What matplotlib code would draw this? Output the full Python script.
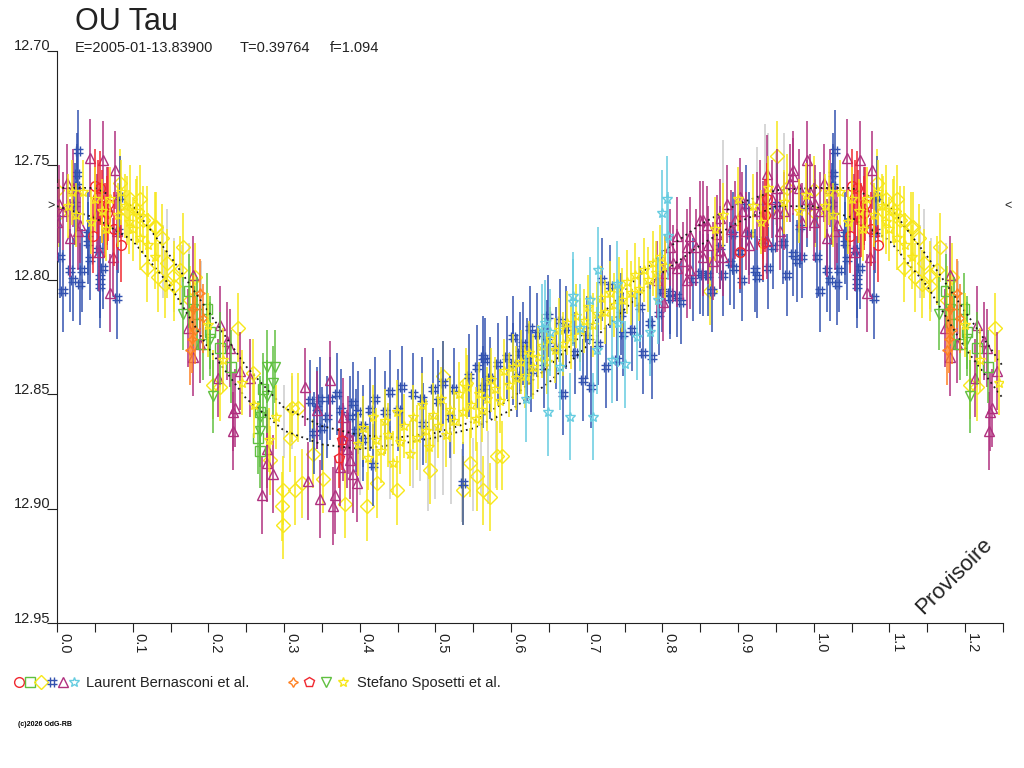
import numpy as np
import matplotlib
matplotlib.use('Agg')
import matplotlib.pyplot as plt
import matplotlib.transforms as mtransforms
from matplotlib.path import Path
from matplotlib.lines import Line2D
from matplotlib.legend_handler import HandlerTuple

plt.rcParams['font.family'] = ['Liberation Sans', 'DejaVu Sans']

# --- light curve data (phase, magnitude) ---
# Laurent Bernasconi et al.
red_phase = [0.050, 0.057, 0.054, 0.059, 0.066, 0.063, 0.048, 0.067, 0.933, 0.938, 0.902, 0.935, 0.075, 0.085]
red_mag = [12.759, 12.760, 12.764, 12.768, 12.771, 12.774, 12.781, 12.767, 12.784, 12.765, 12.788, 12.772, 12.778, 12.785]

green_sq_phase = [0.198, 0.202, 0.193, 0.268, 0.266, 0.268, 0.175, 0.185, 0.215, 0.230, 0.272]
green_sq_mag = [12.813, 12.823, 12.828, 12.858, 12.869, 12.875, 12.805, 12.815, 12.830, 12.838, 12.848]

ydiam_phase = [0.000, 0.002, 0.083, 0.096, 0.106, 0.114, 0.129, 0.139, 0.119, 0.134,
               0.167, 0.145, 0.163, 0.154, 0.119, 0.092, 0.110, 0.239, 0.176, 0.206,
               0.215, 0.143, 0.154, 0.259, 0.308, 0.299, 0.314, 0.297, 0.299, 0.324,
               0.351, 0.281, 0.338, 0.310, 0.318, 0.409, 0.380, 0.423, 0.449, 0.510,
               0.541, 0.563, 0.572, 0.581, 0.588, 0.555, 0.536, 0.546, 0.493, 0.951,
               0.863, 0.940, 0.965, 0.182, 0.131]
ydiam_mag = [12.761, 12.771, 12.758, 12.765, 12.770, 12.774, 12.777, 12.782, 12.795, 12.799,
             12.786, 12.793, 12.796, 12.803, 12.774, 12.770, 12.765, 12.821, 12.809, 12.846,
             12.847, 12.802, 12.798, 12.841, 12.869, 12.892, 12.892, 12.899, 12.907, 12.889,
             12.887, 12.879, 12.876, 12.856, 12.856, 12.899, 12.898, 12.889, 12.892, 12.842,
             12.845, 12.892, 12.895, 12.877, 12.877, 12.886, 12.892, 12.880, 12.883, 12.746,
             12.805, 12.770, 12.760, 12.799, 12.777]

blue_phase = ([0.028, 0.026, 0.026, 0.004, 0.017, 0.021, 0.033, 0.030, 0.041, 0.079,
               0.061, 0.057, 0.083, 0.044, 0.024, 0.041, 0.081, 0.054, 0.057, 0.008]
              + [0.334, 0.347, 0.361, 0.370, 0.343, 0.357, 0.398, 0.404, 0.413, 0.433,
                 0.440, 0.456, 0.418, 0.404, 0.482, 0.497, 0.503, 0.536, 0.563, 0.583,
                 0.572, 0.602, 0.608, 0.621, 0.563, 0.519, 0.484, 0.391, 0.387, 0.339,
                 0.350, 0.375, 0.395, 0.420, 0.450, 0.470, 0.510, 0.525, 0.545, 0.555]
              + [0.603, 0.616, 0.625, 0.565, 0.594, 0.634, 0.647, 0.649, 0.664, 0.673,
                 0.669, 0.695, 0.706, 0.720, 0.726, 0.740, 0.748, 0.774, 0.786, 0.783,
                 0.810, 0.819, 0.853, 0.731, 0.612,
                 0.745, 0.760, 0.770, 0.795, 0.800, 0.825, 0.840, 0.865, 0.880, 0.895,
                 0.660, 0.685, 0.700, 0.715, 0.626, 0.644]
              + [0.849, 0.860, 0.922, 0.925, 0.933, 0.946, 0.959, 0.972, 0.978, 0.915,
                 0.893, 0.902, 0.876, 0.889, 0.991, 0.911, 0.951, 0.982, 0.810,
                 0.905, 0.940, 0.965, 0.985])
blue_mag = ([12.744, 12.754, 12.759, 12.790, 12.796, 12.800, 12.796, 12.802, 12.784, 12.808,
             12.795, 12.803, 12.764, 12.791, 12.767, 12.780, 12.779, 12.787, 12.799, 12.805]
            + [12.853, 12.852, 12.852, 12.850, 12.856, 12.860, 12.858, 12.864, 12.857, 12.858,
               12.849, 12.847, 12.881, 12.870, 12.852, 12.848, 12.853, 12.889, 12.834, 12.837,
               12.843, 12.837, 12.842, 12.835, 12.847, 12.860, 12.863, 12.854, 12.860, 12.867,
               12.865, 12.857, 12.866, 12.852, 12.857, 12.850, 12.845, 12.848, 12.842, 12.838]
            + [12.825, 12.828, 12.821, 12.835, 12.834, 12.824, 12.827, 12.816, 12.818, 12.821,
               12.850, 12.844, 12.847, 12.800, 12.838, 12.835, 12.824, 12.832, 12.834, 12.819,
               12.808, 12.807, 12.798, 12.803, 12.832,
               12.815, 12.822, 12.812, 12.815, 12.805, 12.810, 12.800, 12.805, 12.798, 12.795,
               12.830, 12.832, 12.825, 12.828, 12.840, 12.838]
            + [12.797, 12.798, 12.796, 12.799, 12.783, 12.786, 12.784, 12.789, 12.792, 12.780,
               12.780, 12.788, 12.786, 12.793, 12.768, 12.768, 12.767, 12.777, 12.806,
               12.800, 12.795, 12.798, 12.790])

purple_phase = ([0.044, 0.061, 0.077, 0.000, 0.021, 0.017, 0.030, 0.008, 0.013, 0.070,
                 0.079, 0.074, 0.053, 0.028, 0.002, 0.066, 0.055]
                + [0.180, 0.173, 0.180, 0.189, 0.215, 0.225, 0.229, 0.213, 0.233, 0.235,
                   0.242, 0.255, 0.277, 0.277, 0.271, 0.285, 0.328, 0.361, 0.332, 0.347,
                   0.365, 0.367, 0.378, 0.383, 0.387, 0.391, 0.396, 0.374, 0.343, 0.378,
                   0.384, 0.232]
                + [0.803, 0.814, 0.827, 0.832, 0.845, 0.849, 0.859, 0.872, 0.885, 0.876,
                   0.896, 0.902, 0.911, 0.925, 0.938, 0.951, 0.951, 0.968, 0.972, 0.991,
                   0.995, 0.991, 0.819, 0.836, 0.853, 0.867, 0.876, 0.929, 0.933, 0.938,
                   0.955, 0.972, 0.810, 0.819, 0.836, 0.853, 0.832, 0.801, 0.793,
                   0.860, 0.880, 0.890, 0.905, 0.915, 0.945, 0.960, 0.980, 0.985])
purple_mag = ([12.747, 12.748, 12.752, 12.775, 12.760, 12.782, 12.776, 12.770, 12.758, 12.806,
               12.779, 12.790, 12.771, 12.779, 12.767, 12.768, 12.788]
              + [12.798, 12.821, 12.834, 12.828, 12.820, 12.827, 12.830, 12.843, 12.858, 12.856,
                 12.840, 12.843, 12.874, 12.880, 12.894, 12.885, 12.847, 12.844, 12.888, 12.896,
                 12.899, 12.894, 12.860, 12.874, 12.879, 12.885, 12.889, 12.882, 12.857, 12.871,
                 12.868, 12.866]
              + [12.797, 12.793, 12.792, 12.786, 12.786, 12.774, 12.776, 12.780, 12.767, 12.787,
                 12.774, 12.764, 12.779, 12.770, 12.754, 12.760, 12.771, 12.758, 12.752, 12.748,
                 12.762, 12.765, 12.781, 12.796, 12.790, 12.792, 12.773, 12.765, 12.774, 12.783,
                 12.779, 12.755, 12.786, 12.795, 12.781, 12.774, 12.800, 12.810, 12.800,
                 12.785, 12.790, 12.778, 12.770, 12.785, 12.765, 12.770, 12.760, 12.775])

cyan_phase = [0.806, 0.799, 0.807, 0.682, 0.682, 0.740, 0.741, 0.704, 0.645, 0.641, 0.713, 0.734,
              0.750, 0.783, 0.794, 0.766, 0.649, 0.678, 0.708, 0.664, 0.691, 0.651, 0.715, 0.620]
cyan_mag = [12.765, 12.771, 12.781, 12.807, 12.810, 12.802, 12.819, 12.809, 12.819, 12.821, 12.831, 12.835,
            12.837, 12.823, 12.809, 12.825, 12.858, 12.860, 12.860, 12.838, 12.821, 12.823, 12.796, 12.852]

# Stefano Sposetti et al.
orange_phase = [0.180, 0.178, 0.182, 0.189, 0.193, 0.176]
orange_mag = [12.813, 12.826, 12.822, 12.806, 12.817, 12.831]

pent_phase = [0.372, 0.376]
pent_mag = [12.878, 12.870]

green_tri_phase = [0.166, 0.206, 0.277, 0.288, 0.285, 0.277, 0.268, 0.268, 0.180, 0.202]
green_tri_mag = [12.815, 12.851, 12.838, 12.838, 12.845, 12.851, 12.860, 12.866, 12.813, 12.826]

ystar_phase = ([0.015, 0.025, 0.035, 0.045, 0.060, 0.070, 0.080, 0.090, 0.100, 0.110,
                0.020, 0.050, 0.065, 0.085, 0.095, 0.105, 0.120, 0.130,
                0.200, 0.220, 0.245, 0.260, 0.280, 0.290]
               + [0.398, 0.404, 0.411, 0.417, 0.421, 0.428, 0.433, 0.438, 0.444, 0.449,
                  0.453, 0.459, 0.466, 0.471, 0.476, 0.482, 0.487, 0.491, 0.497, 0.503,
                  0.508, 0.514, 0.519, 0.524, 0.531, 0.536, 0.542, 0.547, 0.553, 0.558,
                  0.562, 0.568, 0.574, 0.579, 0.586, 0.591, 0.597, 0.602, 0.607, 0.613,
                  0.618, 0.624, 0.629, 0.636, 0.641, 0.647, 0.652, 0.658, 0.663, 0.669,
                  0.674, 0.679, 0.686, 0.691, 0.697, 0.702, 0.708, 0.713, 0.719, 0.724,
                  0.731, 0.736, 0.742, 0.747, 0.753, 0.758, 0.764, 0.769, 0.776, 0.781,
                  0.787, 0.792, 0.797, 0.803]
               + [0.870, 0.880, 0.900, 0.920, 0.930, 0.940, 0.960, 0.980, 0.990])
ystar_mag = ([12.768, 12.772, 12.762, 12.775, 12.770, 12.765, 12.772, 12.768, 12.778, 12.782,
              12.762, 12.765, 12.778, 12.762, 12.775, 12.770, 12.785, 12.790,
              12.820, 12.835, 12.845, 12.855, 12.870, 12.860]
             + [12.872, 12.865, 12.878, 12.860, 12.870, 12.875, 12.862, 12.868, 12.880, 12.858,
                12.871, 12.864, 12.876, 12.860, 12.869, 12.855, 12.866, 12.873, 12.859, 12.864,
                12.852, 12.868, 12.857, 12.862, 12.850, 12.858, 12.847, 12.855, 12.861, 12.850,
                12.857, 12.852, 12.844, 12.848, 12.853, 12.840, 12.846, 12.838, 12.843, 12.836,
                12.842, 12.832, 12.838, 12.834, 12.829, 12.836, 12.826, 12.831, 12.822, 12.828,
                12.819, 12.825, 12.816, 12.822, 12.818, 12.812, 12.820, 12.815, 12.808, 12.814,
                12.806, 12.811, 12.804, 12.809, 12.801, 12.806, 12.798, 12.804, 12.796, 12.800,
                12.793, 12.797, 12.790, 12.794]
             + [12.778, 12.772, 12.765, 12.768, 12.775, 12.760, 12.766, 12.770, 12.763])

# unlabelled grey points
grey_phase = [0.140, 0.155, 0.165, 0.190, 0.300, 0.310, 0.400, 0.440, 0.470, 0.490,
              0.500, 0.520, 0.535, 0.550, 0.570, 0.880, 0.935, 0.940, 0.950,
              0.145, 0.175, 0.185, 0.480, 0.510, 0.560, 0.580, 0.960, 0.925]
grey_mag = [12.792, 12.798, 12.801, 12.808, 12.862, 12.858, 12.878, 12.880, 12.875, 12.885,
            12.880, 12.882, 12.890, 12.885, 12.882, 12.755, 12.748, 12.752, 12.760,
            12.785, 12.800, 12.815, 12.872, 12.878, 12.878, 12.875, 12.752, 12.758]

# model curves (dotted)
curve_phase = [0.00, 0.05, 0.10, 0.15, 0.20, 0.25, 0.30, 0.35, 0.40, 0.45, 0.50,
               0.55, 0.60, 0.65, 0.70, 0.75, 0.80, 0.85, 0.90, 0.95, 1.00]
curve_a = [12.760, 12.760, 12.768, 12.790, 12.814, 12.838, 12.856, 12.864, 12.868, 12.869, 12.867,
           12.862, 12.852, 12.838, 12.822, 12.805, 12.788, 12.776, 12.767, 12.761, 12.760]
curve_b = [12.768, 12.773, 12.783, 12.803, 12.830, 12.852, 12.866, 12.872, 12.874, 12.872, 12.869,
           12.865, 12.857, 12.845, 12.829, 12.813, 12.797, 12.785, 12.775, 12.768, 12.768]

ref_mag = 12.768
x_ticks = [0.0, 0.1, 0.2, 0.3, 0.4, 0.5, 0.6, 0.7, 0.8, 0.9, 1.0, 1.1, 1.2]
y_ticks = [12.70, 12.75, 12.80, 12.85, 12.90, 12.95]


def fold(ph, mg):
    ph = np.asarray(ph)
    mg = np.asarray(mg)
    extra = ph < 0.25
    return np.concatenate([ph, ph[extra] + 1.0]), np.concatenate([mg, mg[extra]])


hash_marker = Path([(-1, 0.5), (1, 0.5), (-1, -0.5), (1, -0.5),
                    (-0.5, 1), (-0.5, -1), (0.5, 1), (0.5, -1)],
                   [Path.MOVETO, Path.LINETO] * 4)

C_RED = '#f02830'
C_GREEN = '#60c040'
C_YELLOW = '#f7e71a'
C_BLUE = '#3352b0'
C_PURPLE = '#b0307f'
C_CYAN = '#66cce0'
C_ORANGE = '#ff8020'
C_GREY = '#cccccc'
C_INK = '#222222'

fig = plt.figure(figsize=(10.24, 7.68), dpi=100)
ax = fig.add_axes([57 / 1024, 1 - 623 / 768, (1003 - 57) / 1024, (623 - 50.5) / 768])

series = [
    (grey_phase, grey_mag, 0.016, 'none', C_GREY, 1),
    (ydiam_phase, ydiam_mag, 0.015, 'D', C_YELLOW, 2),
    (blue_phase, blue_mag, 0.018, hash_marker, C_BLUE, 3),
    (purple_phase, purple_mag, 0.017, '^', C_PURPLE, 4),
    (red_phase, red_mag, 0.016, 'o', C_RED, 5),
    (pent_phase, pent_mag, 0.013, 'p', C_RED, 5),
    (green_sq_phase, green_sq_mag, 0.016, 's', C_GREEN, 6),
    (green_tri_phase, green_tri_mag, 0.016, 'v', C_GREEN, 6),
    (orange_phase, orange_mag, 0.015, (4, 1, 0), C_ORANGE, 7),
    (ystar_phase, ystar_mag, 0.014, '*', C_YELLOW, 8),
    (cyan_phase, cyan_mag, 0.019, '*', C_CYAN, 9),
]
for ph, mg, err, mk, col, z in series:
    x, y = fold(ph, mg)
    ax.errorbar(x, y, yerr=err, fmt='none', ecolor=col, elinewidth=1.1, capsize=0, zorder=z)
    if mk != 'none':
        ax.plot(x, y, ls='none', marker=mk, ms=7, mec=col, mfc='none', mew=1.0, zorder=z + 0.5)

for cv in (curve_a, curve_b):
    cx = np.concatenate([curve_phase, np.array(curve_phase[1:]) + 1.0])
    cy = np.concatenate([cv, cv[1:]])
    ax.plot(cx, cy, color='#1a1a1a', ls=(0, (1, 2)), lw=1.3, zorder=7.8)

ax.set_xlim(0, 1.25)
ax.set_ylim(12.95, 12.70)
ax.spines['top'].set_visible(False)
ax.spines['right'].set_visible(False)
for s in ('left', 'bottom'):
    ax.spines[s].set_linewidth(0.8)
    ax.spines[s].set_color(C_INK)

ax.set_xticks(x_ticks)
ax.set_xticklabels(['%.1f' % v for v in x_ticks])
ax.set_xticks(np.array(x_ticks) + 0.05, minor=True)
ax.tick_params(axis='x', which='both', length=6.5, width=0.8, color=C_INK, pad=1,
               labelsize=10.5, labelrotation=270, labelcolor=C_INK)
for lbl in ax.get_xticklabels():
    lbl.set_ha('left')
    lbl.set_va('top')

ax.set_yticks(y_ticks)
ax.set_yticklabels(['%.2f' % v for v in y_ticks])
ax.tick_params(axis='y', length=7.2, width=0.8, color=C_INK, pad=-2.2,
               labelsize=10.5, labelcolor=C_INK)
for lbl in ax.get_yticklabels():
    lbl.set_va('baseline')

trans = mtransforms.blended_transform_factory(ax.transAxes, ax.transData)
ax.text(-0.002, ref_mag, '>', transform=trans, ha='right', va='center', fontsize=9, color=C_INK)
ax.text(1.001, ref_mag, '<', transform=trans, ha='left', va='center', fontsize=9, color=C_INK)

# titles
fig.text(75 / 1024, 1 - 30 / 768, 'OU Tau', fontsize=22, va='baseline', color=C_INK)
fig.text(75 / 1024, 1 - 48 / 768, 'E=2005-01-13.83900', fontsize=10.5, va='center', color=C_INK)
fig.text(240 / 1024, 1 - 48 / 768, 'T=0.39764', fontsize=10.5, va='center', color=C_INK)
fig.text(330 / 1024, 1 - 48 / 768, 'f=1.094', fontsize=10.5, va='center', color=C_INK)
fig.text(954 / 1024, 1 - 576 / 768, 'Provisoire', fontsize=16, rotation=45,
         ha='center', va='center', color=C_INK)
fig.text(18 / 1024, 1 - 725 / 768, '(c)2026 OdG-RB', fontsize=5, weight='bold', va='center')


# legend
def mk_handle(mk, col):
    return Line2D([], [], ls='none', marker=mk, ms=7, mec=col, mfc='none', mew=1.0)


h_lb = tuple(mk_handle(m, c) for m, c in [('o', C_RED), ('s', C_GREEN), ('D', C_YELLOW),
                                          (hash_marker, C_BLUE), ('^', C_PURPLE), ('*', C_CYAN)])
h_ss = tuple(mk_handle(m, c) for m, c in [((4, 1, 0), C_ORANGE), ('p', C_RED),
                                          ('v', C_GREEN), ('*', C_YELLOW)])
fig.legend([h_lb, h_ss], ['Laurent Bernasconi et al.', 'Stefano Sposetti et al.'],
           handler_map={tuple: HandlerTuple(ndivide=None, pad=0.0)},
           ncols=2, loc='center left', bbox_to_anchor=(13 / 1024, 1 - 683 / 768),
           frameon=False, handlelength=4.6, handletextpad=0.4, columnspacing=2.4,
           fontsize=10.5, borderaxespad=0, borderpad=0, labelcolor=C_INK)

fig.savefig('out.png', dpi=100, facecolor='white')
